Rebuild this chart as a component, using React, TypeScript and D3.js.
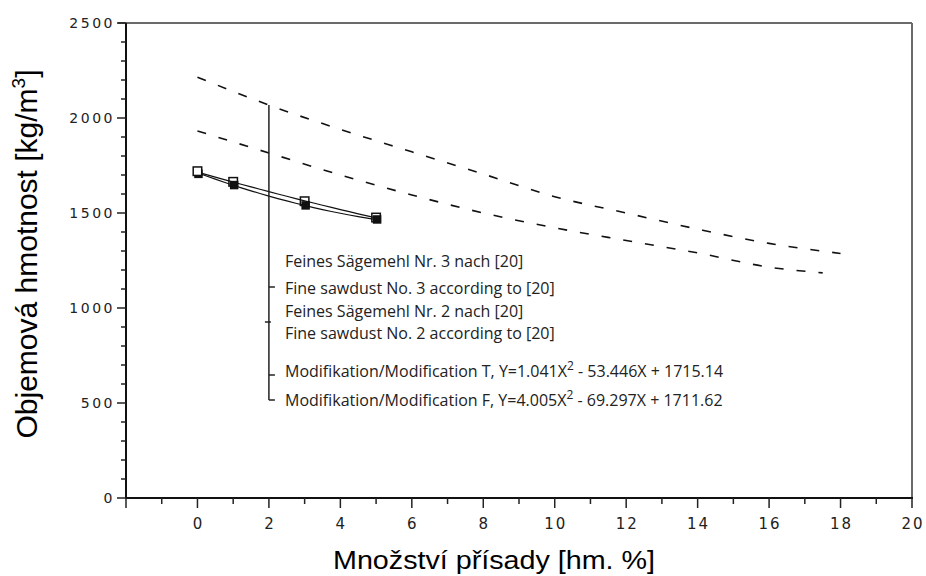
import React from "react";
import * as d3 from "d3";

// Sawdust reference curves (bulk density vs. additive amount)
const sawdustNo3X = [0, 2, 4, 6, 8, 10, 12, 14, 16, 18];
const sawdustNo3 = [2215, 2068, 1940, 1822, 1705, 1586, 1500, 1415, 1340, 1287];
const sawdustNo2X = [0, 2, 4, 6, 8, 10, 12, 14, 16, 17.5];
const sawdustNo2 = [1932, 1816, 1700, 1595, 1500, 1422, 1355, 1290, 1215, 1185];

// Measured points for modifications T and F
const additiveX = [0, 1, 3, 5];
const modT = [1720, 1664, 1562, 1476];
const modF = [1706, 1647, 1540, 1466];

// Quadratic fit coefficients [a, b, c] for Y = aX^2 + bX + c
const fitT = [1.041, -53.446, 1715.14];
const fitF = [4.005, -69.297, 1711.62];

const xTickLabels = [0, 2, 4, 6, 8, 10, 12, 14, 16, 18, 20];
const yTickLabels = [0, 500, 1000, 1500, 2000, 2500];

const legendRows = [
  { text: "Feines Sägemehl Nr. 3 nach [20]" },
  { text: "Fine sawdust No. 3 according to [20]" },
  { text: "Feines Sägemehl Nr. 2 nach [20]" },
  { text: "Fine sawdust No. 2 according to [20]" },
  { pre: "Modifikation/Modification T, Y=1.041X", post: " - 53.446X + 1715.14" },
  { pre: "Modifikation/Modification F, Y=4.005X", post: " - 69.297X + 1711.62" },
];

const W = 926;
const H = 576;
const left = 126;
const right = 912;
const top = 23;
const bottom = 498;

export default function App() {
  const x = d3.scaleLinear().domain([-2, 20]).range([left, right]);
  const y = d3.scaleLinear().domain([0, 2500]).range([bottom, top]);

  const line = d3
    .line<[number, number]>()
    .x((d) => x(d[0]))
    .y((d) => y(d[1]))
    .curve(d3.curveMonotoneX);

  const no3Path = line(sawdustNo3X.map((v, i) => [v, sawdustNo3[i]]))!;
  const no2Path = line(sawdustNo2X.map((v, i) => [v, sawdustNo2[i]]))!;

  const fitPath = (c: number[]) => {
    const xs = d3.range(0, 5.0001, 0.25);
    return line(xs.map((v) => [v, c[0] * v * v + c[1] * v + c[2]]))!;
  };

  const xMinor = d3.range(-2, 20.001, 1);
  const yMinor = d3.range(0, 2500.001, 100);

  const legendBaselines = [267, 294, 317, 339, 377, 406];
  const bracketX = x(2);
  const ms = 8.5;

  return (
    <svg
      width={W}
      height={H}
      style={{ position: "absolute", left: 0, top: 0, background: "#fff" }}
    >
      <rect x={0} y={0} width={W} height={H} fill="#fff" />

      {/* frame */}
      <line x1={118} y1={top} x2={right} y2={top} stroke="#6a6a6a" strokeWidth={2} />
      <line x1={right} y1={top} x2={right} y2={bottom} stroke="#6a6a6a" strokeWidth={2} />
      <line x1={left} y1={top} x2={left} y2={bottom + 1} stroke="#111" strokeWidth={2} />
      <line x1={left} y1={bottom} x2={right + 1} y2={bottom} stroke="#111" strokeWidth={2} />

      {/* y ticks */}
      {yMinor.map((v) => {
        const major = v % 500 === 0;
        return (
          <line
            key={"yt" + v}
            x1={left - (major ? 9 : 5)}
            x2={left}
            y1={y(v)}
            y2={y(v)}
            stroke="#222"
            strokeWidth={1.5}
          />
        );
      })}
      {yTickLabels.map((v) => (
        <text
          key={"yl" + v}
          x={115}
          y={y(v) + 5}
          textAnchor="end"
          fontFamily="DejaVu Sans"
          fontSize={14}
          letterSpacing={2.5}
          fill="#222"
        >
          {v}
        </text>
      ))}

      {/* x ticks */}
      {xMinor.map((v) => {
        const major = v % 2 === 0;
        return (
          <line
            key={"xt" + v}
            x1={x(v)}
            x2={x(v)}
            y1={bottom}
            y2={bottom + (major ? 10 : 6)}
            stroke="#222"
            strokeWidth={1.5}
          />
        );
      })}
      {xTickLabels.map((v) => (
        <text
          key={"xl" + v}
          x={x(v) + 1}
          y={529}
          textAnchor="middle"
          fontFamily="DejaVu Sans"
          fontSize={15}
          letterSpacing={2}
          fill="#222"
        >
          {v}
        </text>
      ))}

      {/* axis titles */}
      <text
        x={494}
        y={569}
        textAnchor="middle"
        fontFamily="Liberation Sans, Arial, sans-serif"
        fontSize={26}
        textLength={322}
        lengthAdjust="spacingAndGlyphs"
        fill="#000"
      >
        Množství přísady [hm. %]
      </text>
      <text
        transform={`translate(37, 254) rotate(-90)`}
        textAnchor="middle"
        fontFamily="Liberation Sans, Arial, sans-serif"
        fontSize={30}
        fill="#000"
      >
        Objemová hmotnost [kg/m
        <tspan dy={-12} fontSize={19}>3</tspan>
        <tspan dy={12}>]</tspan>
      </text>

      {/* sawdust curves */}
      <path d={no3Path} fill="none" stroke="#111" strokeWidth={1.6} strokeDasharray="9 13" />
      <path d={no2Path} fill="none" stroke="#111" strokeWidth={1.6} strokeDasharray="9 13" />

      {/* fitted curves */}
      <path d={fitPath(fitT)} fill="none" stroke="#111" strokeWidth={1.2} />
      <path d={fitPath(fitF)} fill="none" stroke="#111" strokeWidth={1.2} />

      {/* markers */}
      {additiveX.map((v, i) => (
        <rect
          key={"f" + v}
          x={x(v) - ms / 2 + 1}
          y={y(modF[i]) - ms / 2}
          width={ms}
          height={ms}
          fill="#111"
        />
      ))}
      {additiveX.map((v, i) => (
        <rect
          key={"t" + v}
          x={x(v) - ms / 2}
          y={y(modT[i]) - ms / 2}
          width={ms}
          height={ms}
          fill={i === 0 ? "#fff" : "none"}
          stroke="#111"
          strokeWidth={1.5}
        />
      ))}

      {/* legend bracket */}
      <line x1={bracketX} x2={bracketX} y1={y(sawdustNo3[1])} y2={400} stroke="#222" strokeWidth={1.5} />
      <line x1={bracketX} x2={bracketX + 6} y1={287} y2={287} stroke="#222" strokeWidth={1.5} />
      <line x1={bracketX - 4} x2={bracketX + 2} y1={322} y2={322} stroke="#222" strokeWidth={1.5} />
      <line x1={bracketX} x2={bracketX + 6} y1={375} y2={375} stroke="#222" strokeWidth={1.5} />
      <line x1={bracketX} x2={bracketX + 6} y1={400} y2={400} stroke="#222" strokeWidth={1.5} />

      {legendRows.map((r, i) => (
        <text
          key={"lg" + i}
          x={285}
          y={legendBaselines[i]}
          fontFamily="Open Sans, Noto Sans, sans-serif"
          fontSize={16}
          fill="#222"
        >
          {r.text ? (
            r.text
          ) : (
            <>
              {r.pre}
              <tspan dy={-7} fontSize={12}>2</tspan>
              <tspan dy={7}>{r.post}</tspan>
            </>
          )}
        </text>
      ))}
    </svg>
  );
}
